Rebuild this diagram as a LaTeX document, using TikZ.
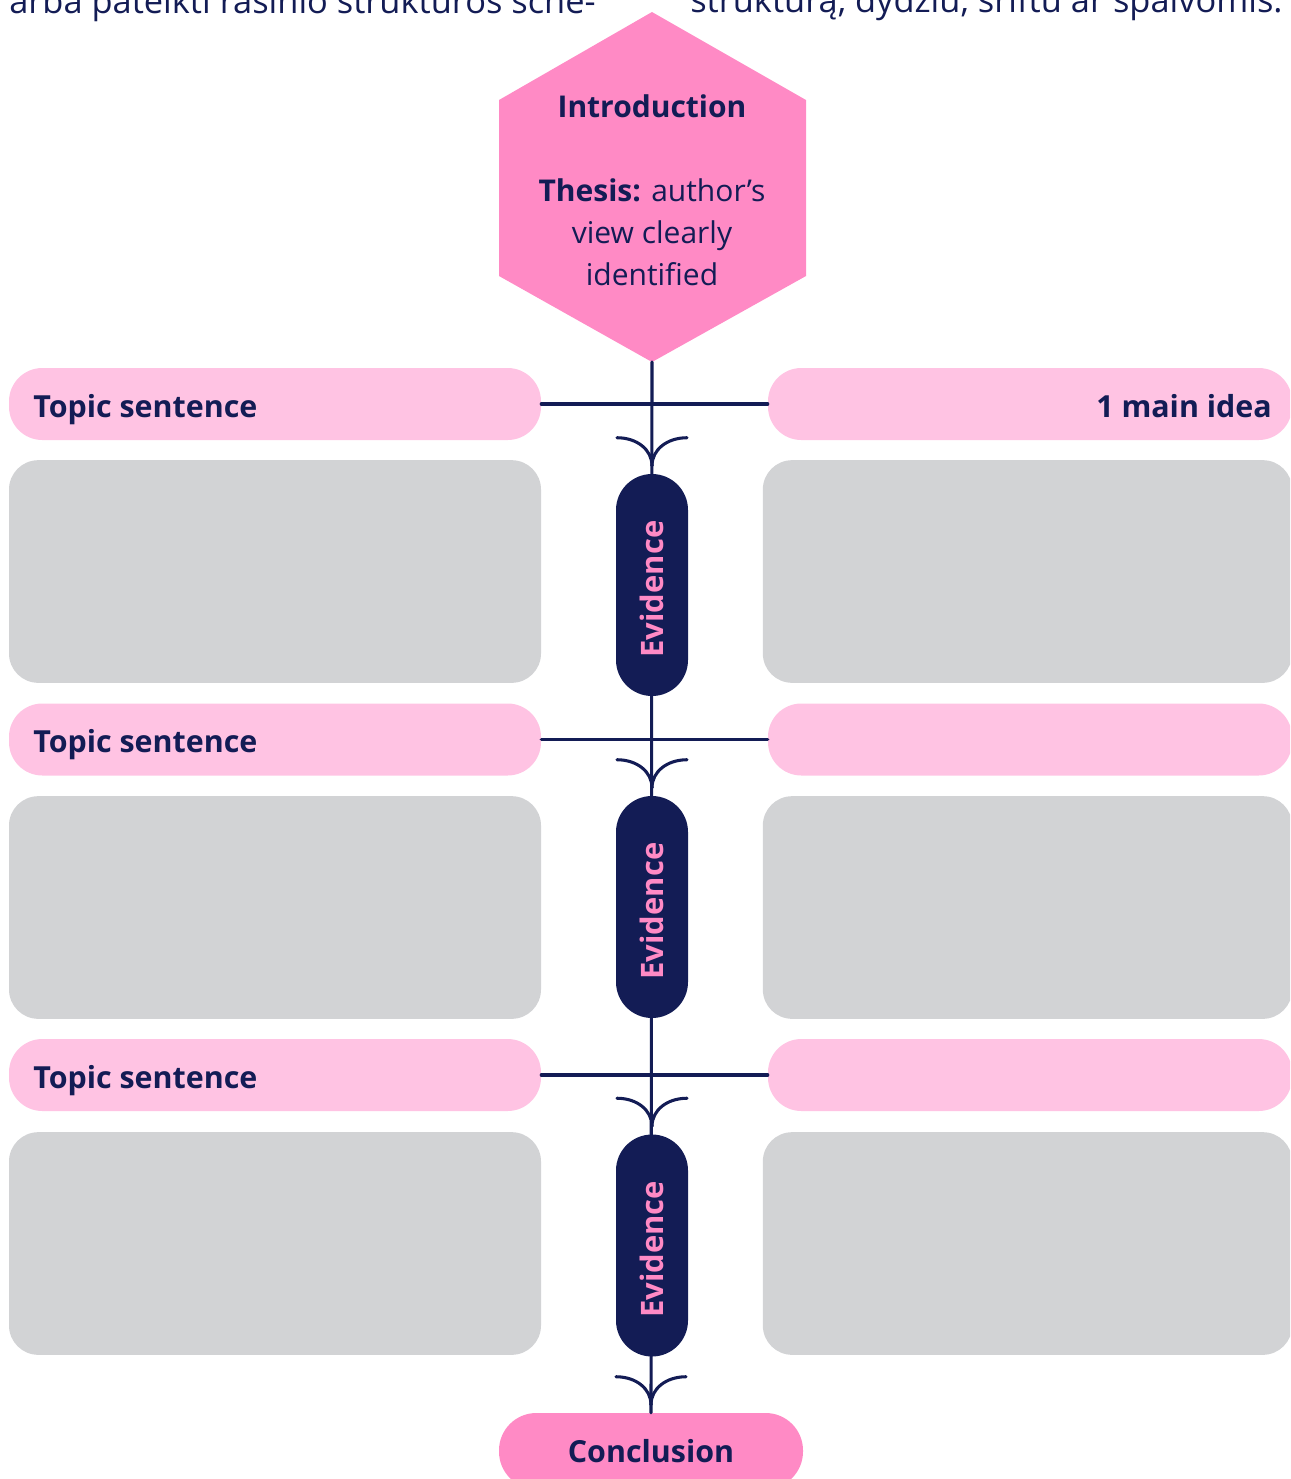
\documentclass[tikz,border=0pt]{standalone}
\usepackage{fontspec}
\setmainfont{Open Sans}
\usetikzlibrary{calc}
\definecolor{navy}{HTML}{131C55}
\definecolor{hotpink}{HTML}{FF8AC5}
\definecolor{lightpink}{HTML}{FFC3E3}
\definecolor{boxgray}{HTML}{D2D3D5}
\tikzset{
  link/.style={draw=navy, line width=2.3pt, line cap=round},
  topicpill/.style={fill=lightpink, rounded corners=25pt, minimum height=54pt, inner sep=0pt},
  graybox/.style={fill=boxgray, rounded corners=22pt, minimum height=167pt, inner sep=0pt},
  evpill/.style={fill=navy, rounded corners=27pt, minimum width=54pt, minimum height=166.5pt, inner sep=0pt},
  lbl/.style={text=navy, font=\bfseries\fontsize{22.8}{27}\selectfont, inner sep=0pt},
  evtext/.style={text=hotpink, font=\bfseries\fontsize{23.2}{27}\selectfont, rotate=90, inner sep=0pt},
  toptext/.style={text=navy, font=\fontsize{25.8}{30}\selectfont, inner sep=0pt, anchor=base west},
}
\newcommand\forkto[1]{%
  \draw[link] ($(#1.north)+(-35,-36)$) .. controls +(20,0) and +(0,-16) .. ($(#1.north)+(0,-8)$);
  \draw[link] ($(#1.north)+(35,-36)$) .. controls +(-20,0) and +(0,-16) .. ($(#1.north)+(0,-8)$);
}
\begin{document}
\begin{tikzpicture}[x=0.75pt,y=-0.75pt]
\useasboundingbox (0,0) rectangle (1290,1479);
\clip (0,0) rectangle (1290,1479);

% cut-off text lines at the top
\node[toptext] (topl) at (9,13) {arba pateikti rašinio struktūros sche-};
\node[toptext] (topr) at (690,12) {struktūrą, dydžiu, šriftu ar spalvomis.};

% introduction hexagon
\fill[hotpink] (652,12) -- (806,100) -- (806,276) -- (652,362) -- (499,276) -- (499,100) -- cycle;
\coordinate (introbot) at (652,362);
\node[text=navy, align=center, font=\fontsize{22.5}{31.5}\selectfont, inner sep=0pt] (intro) at (652,190)
  {\textbf{Introduction}\\[31.5pt]\textbf{Thesis:} author’s\\view clearly\\identified};

% conclusion
\node[fill=hotpink, rounded corners=28pt, minimum width=228pt, minimum height=57pt, inner sep=0pt] (conc) at (651,1451) {};
\node[lbl, anchor=base] (conctext) at (651,1462) {Conclusion};

% main vertical line
\draw[link] (introbot) -- (conc.north);

% rows
\foreach \i/\yt/\yg/\ye in {1/404/571.5/585, 2/739.5/907.5/907, 3/1075/1243.5/1245.5} {
  \node[topicpill, minimum width=399pt] (tl\i) at (275,\yt) {};
  \node[topicpill, minimum width=393pt] (tr\i) at (1030,\yt) {};
  \node[graybox, minimum width=399pt] (gl\i) at (275,\yg) {};
  \node[graybox, minimum width=397pt] (gr\i) at (1027.5,\yg) {};
  \draw[link] (tl\i.east) -- (tr\i.west);
  \node[evpill] (ev\i) at (652,\ye) {};
  \node[evtext] (evt\i) at ($(ev\i.center)+(0,4)$) {Evidence};
  \node[lbl, anchor=base west] (tlt\i) at (33,\yt+13) {Topic sentence};
}
\node[lbl, anchor=base east] (idea) at (1272,417) {1 main idea};

\forkto{ev1}
\forkto{ev2}
\forkto{ev3}
\forkto{conc}
\end{tikzpicture}
\end{document}
